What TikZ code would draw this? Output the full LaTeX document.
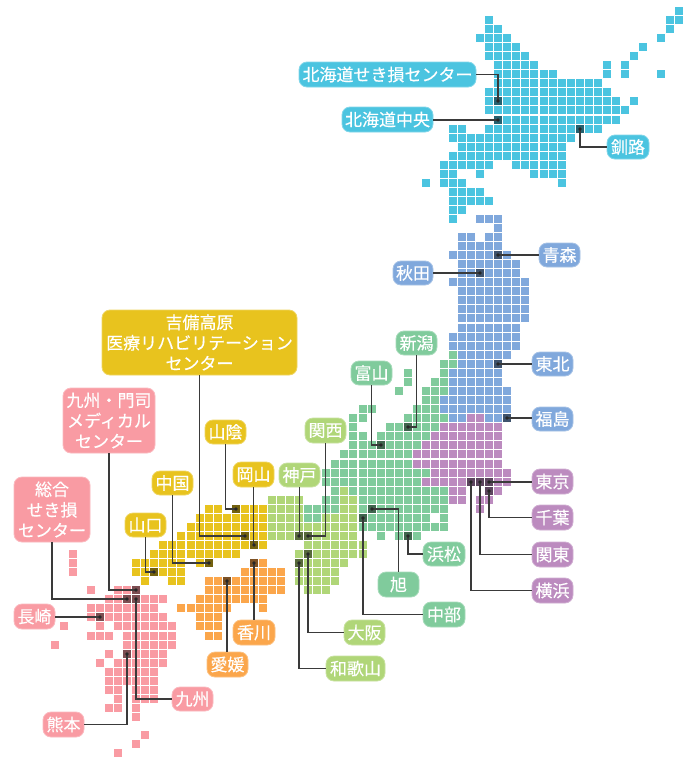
\documentclass[tikz,border=0pt]{standalone}
\usepackage{fontspec}
\setmainfont[FakeBold=0.35]{Noto Sans CJK JP}
\definecolor{cya}{HTML}{4BC4E0}
\definecolor{blu}{HTML}{80A8DC}
\definecolor{gre}{HTML}{80CB9C}
\definecolor{lim}{HTML}{B0D678}
\definecolor{yel}{HTML}{E8C31E}
\definecolor{ora}{HTML}{FBA64B}
\definecolor{kyu}{HTML}{F99BA3}
\definecolor{pur}{HTML}{BC8BBF}
\definecolor{lin}{HTML}{3A3A3A}
\tikzset{
  lab/.style={rounded corners=8pt,text=white,inner sep=0pt,align=center,draw=#1!70!white,line width=0.8pt,fill=#1,
    font=\fontsize{17}{20.5}\selectfont},
  conn/.style={draw=lin,line width=1.2pt},
}
\newcommand\colx[1]{(51+9*#1+(#1>=15)+(#1>=34)+(#1>=54))}
\newcommand\rowy[1]{(7+9*#1+(#1>=12)+(#1>=35)+(#1>=50)+(#1>=69))}
\newcommand\cells[3]{\foreach \ca/\cb in {#3}{\foreach \cc in {\ca,...,\cb}{\fill[#1] ({\colx{\cc}},{\rowy{#2}}) rectangle ++(8,8);}}}
\newcommand\markcell[3]{\fill[black,opacity=0.5] ({\colx{#2}},{\rowy{#3}}) rectangle ++(8,8);
  \coordinate (#1) at ({\colx{#2}+4},{\rowy{#3}+4});}
\newcommand\lbl[7]{\node[lab=#6,minimum width={(#4-#2)*1pt},minimum height={(#5-#3)*1pt}] (#1) at ({(#2+#4)/2},{(#3+#5)/2}) {#7};}
\newcommand\dotat[1]{\fill[black!85] (#1) circle (1.8);}
\begin{document}
\begin{tikzpicture}[x=1pt,y=-1pt]
\useasboundingbox (0,0) rectangle (691,758);
\fill[white] (0,0) rectangle (691,758);
% Hokkaido
\cells{cya}{0}{69}
\cells{cya}{1}{48,68/69}
\cells{cya}{2}{48/49,68}
\cells{cya}{3}{47/50,67}
\cells{cya}{4}{48/51,65}
\cells{cya}{5}{48/52,64}
\cells{cya}{6}{49/53,61,63}
\cells{cya}{7}{49/55,61,63,67}
\cells{cya}{8}{49/60}
\cells{cya}{9}{48/61}
\cells{cya}{10}{48/62,64}
\cells{cya}{11}{48/63}
\cells{cya}{12}{49/62}
\cells{cya}{13}{44/45,48/60}
\cells{cya}{14}{44/57}
\cells{cya}{15}{45/56}
\cells{cya}{16}{44/56}
\cells{cya}{17}{43/48,51/56}
\cells{cya}{18}{43/44,47,53/56}
\cells{cya}{19}{41,43/45,56}
\cells{cya}{20}{44/47}
\cells{cya}{21}{44/48}
\cells{cya}{22}{44/45}
\cells{cya}{23}{44}
% Tohoku
\cells{blu}{23}{47/49}
\cells{blu}{24}{49}
\cells{blu}{25}{45/46,48/49}
\cells{blu}{26}{45/49}
\cells{blu}{27}{44/50}
\cells{blu}{28}{45/51}
\cells{blu}{29}{45/51}
\cells{blu}{30}{44/52}
\cells{blu}{31}{45/52}
\cells{blu}{32}{45/52}
\cells{blu}{33}{45/52}
\cells{blu}{34}{45/52}
\cells{blu}{35}{45/51}
\cells{blu}{36}{44/51}
\cells{blu}{37}{44/51}
\cells{blu}{38}{45/50}
\cells{blu}{39}{45/49}
\cells{blu}{40}{44/49}
\cells{blu}{41}{44/49}
\cells{blu}{42}{44/50}
\cells{blu}{43}{43/50}
\cells{blu}{44}{43/50}
\cells{blu}{45}{44/45,48/50}
% Chubu
\cells{gre}{38}{44}
\cells{gre}{39}{43/44}
\cells{gre}{40}{39,43}
\cells{gre}{41}{39,42/43}
\cells{gre}{42}{38,41/43}
\cells{gre}{43}{41/42}
\cells{gre}{44}{34/35,40/42}
\cells{gre}{45}{33/34,39/43}
\cells{gre}{46}{33,37/42}
\cells{gre}{47}{33/34,36/41}
\cells{gre}{48}{33/40}
\cells{gre}{49}{32/39}
\cells{gre}{50}{31/39}
\cells{gre}{51}{30/41}
\cells{gre}{52}{30/40}
\cells{gre}{53}{31,33/43}
\cells{gre}{54}{30/31,34/43}
\cells{gre}{55}{28/31,34/43}
\cells{gre}{56}{28/29,34/41,43}
\cells{gre}{57}{34/43}
\cells{gre}{58}{36,38/40}
% Kanto
\cells{pur}{45}{46/47}
\cells{pur}{46}{43/49}
\cells{pur}{47}{42/49}
\cells{pur}{48}{41/49}
\cells{pur}{49}{40/49}
\cells{pur}{50}{40/49}
\cells{pur}{51}{42/50}
\cells{pur}{52}{41/50}
\cells{pur}{53}{44/45,48/49}
\cells{pur}{54}{44/45,47/48}
\cells{pur}{55}{47}
% Kansai
\cells{lim}{53}{32}
\cells{lim}{54}{24/27,32/33}
\cells{lim}{55}{24/27,32/33}
\cells{lim}{56}{24/27,30/33}
\cells{lim}{57}{24/33}
\cells{lim}{58}{24/33}
\cells{lim}{59}{28/34}
\cells{lim}{60}{27/34}
\cells{lim}{61}{27/32}
\cells{lim}{62}{27/31}
\cells{lim}{63}{27/31}
\cells{lim}{64}{28/30}
% Chugoku
\cells{yel}{55}{17/18,20/23}
\cells{yel}{56}{16/23}
\cells{yel}{57}{15/23}
\cells{yel}{58}{14/23}
\cells{yel}{59}{12/23}
\cells{yel}{60}{11/20}
\cells{yel}{61}{9/14,16/17}
\cells{yel}{62}{9/14}
\cells{yel}{63}{10,13/14}
% Shikoku
\cells{ora}{61}{22/23}
\cells{ora}{62}{21/25}
\cells{ora}{63}{17/25}
\cells{ora}{64}{17/25}
\cells{ora}{65}{16/23}
\cells{ora}{66}{14/19,23}
\cells{ora}{67}{16/18}
\cells{ora}{68}{16/18}
\cells{ora}{69}{17/18}
% Kyushu
\cells{kyu}{60}{2}
\cells{kyu}{61}{2}
\cells{kyu}{62}{2}
\cells{kyu}{64}{4,7/9}
\cells{kyu}{65}{6/12}
\cells{kyu}{66}{4/11}
\cells{kyu}{67}{4/12}
\cells{kyu}{68}{1,5,7/13}
\cells{kyu}{69}{4/6,8/13}
\cells{kyu}{70}{0,8/13}
\cells{kyu}{71}{6,8/12}
\cells{kyu}{72}{5,7/12}
\cells{kyu}{73}{6/11}
\cells{kyu}{74}{6/11}
\cells{kyu}{75}{6/7,9/11}
\cells{kyu}{76}{7,9/11}
\cells{kyu}{77}{6/7,9}
\cells{kyu}{78}{9}
\cells{kyu}{80}{10}
\cells{kyu}{81}{9}
\cells{kyu}{82}{7}
% marked cells
\markcell{mSekison}{49}{10}
\markcell{mHokkaido}{49}{12}
\markcell{mKushiro}{58}{13}
\markcell{mAomori}{49}{27}
\markcell{mAkita}{47}{29}
\markcell{mTohoku}{49}{39}
\markcell{mFukushima}{50}{45}
\markcell{mNiigata}{39}{46}
\markcell{mToyama}{36}{48}
\markcell{mKansai}{28}{58}
\markcell{mKobe}{27}{58}
\markcell{mHamamatsu}{39}{58}
\markcell{mAsahi}{35}{55}
\markcell{mChubu}{34}{56}
\markcell{mOsaka}{28}{60}
\markcell{mWakayama}{27}{61}
\markcell{mTokyo}{48}{52}
\markcell{mChiba}{48}{53}
\markcell{mKanto}{47}{52}
\markcell{mYokohama}{46}{52}
\markcell{mKibi}{21}{58}
\markcell{mSanin}{20}{55}
\markcell{mOkayama}{22}{59}
\markcell{mChugoku}{17}{61}
\markcell{mYamaguchi}{11}{62}
\markcell{mKagawa}{22}{61}
\markcell{mEhime}{19}{63}
\markcell{mMoji}{9}{64}
\markcell{mSogo}{8}{65}
\markcell{mNagasaki}{5}{67}
\markcell{mKumamoto}{8}{71}
\markcell{mKyushu}{9}{65}
% labels
\lbl{lSekison}{299}{62}{476}{87}{cya}{北海道せき損センター}
\lbl{lHokkaido}{342}{107}{433}{132}{cya}{北海道中央}
\lbl{lKushiro}{607}{135}{649}{159}{cya}{釧路}
\lbl{lAomori}{539}{243}{580}{267}{blu}{青森}
\lbl{lAkita}{393}{261}{433}{285}{blu}{秋田}
\lbl{lTohoku}{532}{352}{573}{376}{blu}{東北}
\lbl{lFukushima}{532}{407}{573}{431}{blu}{福島}
\lbl{lNiigata}{396}{331}{437}{355}{gre}{新潟}
\lbl{lToyama}{351}{361}{392}{385}{gre}{富山}
\lbl{lHamamatsu}{423}{542}{465}{566}{gre}{浜松}
\lbl{lAsahi}{378}{572}{419}{597}{gre}{旭}
\lbl{lChubu}{423}{602}{465}{627}{gre}{中部}
\lbl{lKansai}{305}{418}{346}{443}{lim}{関西}
\lbl{lKobe}{279}{463}{320}{487}{lim}{神戸}
\lbl{lOsaka}{344}{620}{385}{645}{lim}{大阪}
\lbl{lWakayama}{326}{656}{385}{681}{lim}{和歌山}
\lbl{lTokyo}{532}{469}{573}{494}{pur}{東京}
\lbl{lChiba}{532}{505}{573}{530}{pur}{千葉}
\lbl{lKanto}{532}{542}{573}{567}{pur}{関東}
\lbl{lYokohama}{532}{578}{573}{603}{pur}{横浜}
\lbl{lKibi}{102}{310}{297}{375}{yel}{吉備高原\\医療リハビリテーション\\センター}
\lbl{lSanin}{205}{420}{246}{444}{yel}{山陰}
\lbl{lOkayama}{233}{462}{274}{487}{yel}{岡山}
\lbl{lChugoku}{152}{471}{193}{495}{yel}{中国}
\lbl{lYamaguchi}{125}{513}{166}{537}{yel}{山口}
\lbl{lKagawa}{233}{620}{275}{645}{ora}{香川}
\lbl{lEhime}{207}{652}{248}{677}{ora}{愛媛}
\lbl{lMoji}{63}{388}{155}{453}{kyu}{九州・門司\\メディカル\\センター}
\lbl{lSogo}{14}{477}{90}{542}{kyu}{総合\\せき損\\センター}
\lbl{lNagasaki}{14}{604}{55}{629}{kyu}{長崎}
\lbl{lKyushu}{172}{687}{213}{711}{kyu}{九州}
\lbl{lKumamoto}{43}{712}{84}{737}{kyu}{熊本}
% connectors
\draw[conn] (lSekison.east) -| (mSekison);
\draw[conn] (lHokkaido.east |- mHokkaido) -- (mHokkaido);
\draw[conn] (mKushiro) |- (lKushiro.west);
\draw[conn] (mAomori) -- (lAomori.west |- mAomori);
\draw[conn] (lAkita.east |- mAkita) -- (mAkita);
\draw[conn] (mTohoku) -- (lTohoku.west |- mTohoku);
\draw[conn] (mFukushima) -- (lFukushima.west |- mFukushima);
\draw[conn] (lNiigata.south) |- (mNiigata);
\draw[conn] (lToyama.south) |- (mToyama);
\draw[conn] (lKansai.south) |- (mKansai);
\draw[conn] (lKobe.south) |- (mKobe);
\draw[conn] (mHamamatsu) |- (lHamamatsu.west);
\draw[conn] (lAsahi.north) |- (mAsahi);
\draw[conn] (mChubu) |- (lChubu.west);
\draw[conn] (mOsaka) |- (lOsaka.west);
\draw[conn] (mWakayama) |- (lWakayama.west);
\draw[conn] (mTokyo) -- (lTokyo.west |- mTokyo);
\draw[conn] (mChiba) |- (lChiba.west);
\draw[conn] (mKanto) |- (lKanto.west);
\draw[conn] (mYokohama) |- (lYokohama.west);
\draw[conn] (lKibi.south) |- (mKibi);
\draw[conn] (lSanin.south) |- (mSanin);
\draw[conn] (lOkayama.south) |- (mOkayama);
\draw[conn] (lChugoku.south) |- (mChugoku);
\draw[conn] (lYamaguchi.south) |- (mYamaguchi);
\draw[conn] (mKagawa) -- (mKagawa |- lKagawa.north);
\draw[conn] (mEhime) -- (mEhime |- lEhime.north);
\draw[conn] (lMoji.south) |- (mMoji);
\draw[conn] (lSogo.south) |- (mSogo);
\draw[conn] (lNagasaki.east |- mNagasaki) -- (mNagasaki);
\draw[conn] (lKumamoto.east) -| (mKumamoto);
\draw[conn] (mKyushu) |- (lKyushu.west);
% dots
\foreach \m in {mSekison,mHokkaido,mKushiro,mAomori,mAkita,mTohoku,mFukushima,mNiigata,mToyama,mKansai,mKobe,mHamamatsu,mAsahi,mChubu,mOsaka,mWakayama,mTokyo,mChiba,mKanto,mYokohama,mKibi,mSanin,mOkayama,mChugoku,mYamaguchi,mKagawa,mEhime,mMoji,mSogo,mNagasaki,mKumamoto,mKyushu}{\dotat{\m}}
\end{tikzpicture}
\end{document}
